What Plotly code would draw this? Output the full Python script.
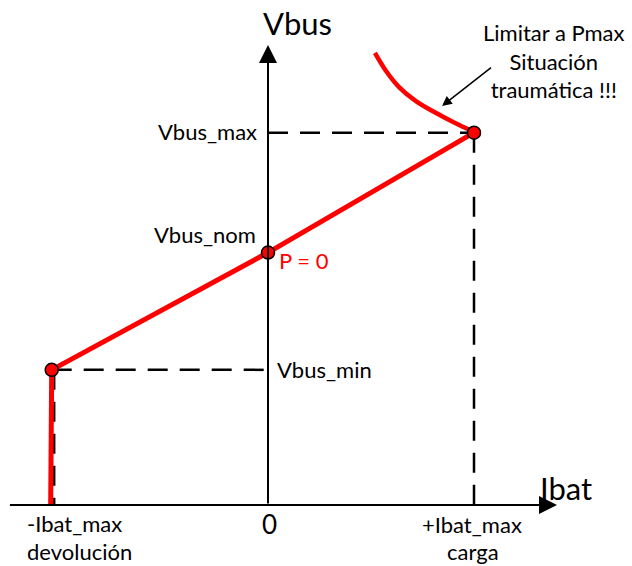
import plotly.graph_objects as go

# ---- data (diagram units) ----
ibat_labels = ["-Ibat_max", "0", "+Ibat_max"]
ibat_sublabels = ["devolución", "", "carga"]
ibat_values = [-1.05, 0.0, 1.0]
vbus_labels = ["Vbus_min", "Vbus_nom", "Vbus_max"]
vbus_values = [0.53, 0.99, 1.46]

# characteristic line (droop)
droop_i = [-1.05, 0.0, 1.0]
droop_v = [0.53, 0.99, 1.46]
# vertical limit at -Ibat_max
limit_i = [-1.055, -1.05]
limit_v = [0.0, 0.53]
# power limit curve
curve_i = [0.519, 0.573, 0.636, 0.718, 0.816, 0.908, 0.990]
curve_v = [1.773, 1.702, 1.639, 1.584, 1.537, 1.498, 1.467]

FONT = "Lato"
fig = go.Figure()

# dashed guide lines
dash = dict(color="black", width=2.5, dash="20px,12px")
fig.add_trace(go.Scatter(x=[ibat_values[0], 0], y=[vbus_values[0]] * 2, mode="lines", line=dash, hoverinfo="skip"))
fig.add_trace(go.Scatter(x=[ibat_values[0] + 0.012] * 2, y=[vbus_values[0], 0], mode="lines", line=dash, hoverinfo="skip"))
fig.add_trace(go.Scatter(x=[0, ibat_values[2]], y=[vbus_values[2]] * 2, mode="lines", line=dash, hoverinfo="skip"))
fig.add_trace(go.Scatter(x=[ibat_values[2]] * 2, y=[vbus_values[2], 0], mode="lines", line=dash, hoverinfo="skip"))

red = dict(color="#ff0000", width=5)
fig.add_trace(go.Scatter(x=limit_i, y=limit_v, mode="lines", line=red, hoverinfo="skip"))
fig.add_trace(go.Scatter(x=droop_i, y=droop_v, mode="lines", line=red, hoverinfo="skip"))
fig.add_trace(go.Scatter(x=curve_i, y=curve_v, mode="lines",
                         line=dict(color="#ff0000", width=4.5, shape="spline", smoothing=1.0), hoverinfo="skip"))
fig.add_trace(go.Scatter(x=droop_i, y=droop_v, mode="markers",
                         marker=dict(color="#ff0000", size=13, line=dict(color="black", width=1.5)), hoverinfo="skip"))

ann = []
# axes with arrows
ann.append(dict(x=1.403, y=0, ax=-1.26, ay=0, xref="x", yref="y", axref="x", ayref="y",
                showarrow=True, arrowhead=2, arrowsize=1.8, arrowwidth=2, arrowcolor="black", text=""))
ann.append(dict(x=0, y=1.804, ax=0, ay=0, xref="x", yref="y", axref="x", ayref="y",
                showarrow=True, arrowhead=2, arrowsize=1.8, arrowwidth=2, arrowcolor="black", text=""))
# axis titles
ann.append(dict(x=0.145, y=1.89, text="Vbus", showarrow=False, font=dict(size=31, family=FONT, color="black")))
ann.append(dict(x=1.447, y=0.065, text="Ibat", showarrow=False, font=dict(size=31, family=FONT, color="black")))
# x tick labels
lab_font = dict(size=22, family=FONT, color="black")
ann.append(dict(x=-0.937, y=-0.071, text=ibat_labels[0], showarrow=False, font=lab_font))
ann.append(dict(x=-0.913, y=-0.182, text=ibat_sublabels[0], showarrow=False, font=lab_font))
ann.append(dict(x=0.005, y=-0.075, text=ibat_labels[1], showarrow=False,
                font=dict(size=26, family=FONT, color="black")))
ann.append(dict(x=0.990, y=-0.078, text=ibat_labels[2], showarrow=False, font=lab_font))
ann.append(dict(x=0.995, y=-0.184, text=ibat_sublabels[2], showarrow=False, font=lab_font))
# y tick labels
ann.append(dict(x=-0.045, y=vbus_values[2] + 0.005, text=vbus_labels[2], showarrow=False, xanchor="right",
                font=lab_font))
ann.append(dict(x=-0.05, y=vbus_values[1] + 0.07, text=vbus_labels[1], showarrow=False, xanchor="right",
                font=lab_font))
ann.append(dict(x=0.035, y=vbus_values[0], text=vbus_labels[0], showarrow=False, xanchor="left",
                font=lab_font))
ann.append(dict(x=0.045, y=vbus_values[1] - 0.03, text="P = 0", showarrow=False, xanchor="left",
                font=dict(size=22, family=FONT, color="#ff0000")))
# callout
ann.append(dict(x=1.39, y=1.74, text="Limitar a Pmax<br>Situación<br>traumática !!!", showarrow=False,
                font=lab_font, align="center"))
ann.append(dict(x=0.845, y=1.565, ax=1.09, ay=1.72, xref="x", yref="y", axref="x", ayref="y",
                showarrow=True, arrowhead=2, arrowsize=1.3, arrowwidth=1.5, arrowcolor="black", text=""))

fig.update_layout(
    width=632, height=566, margin=dict(l=0, r=0, t=0, b=0),
    paper_bgcolor="white", plot_bgcolor="white", showlegend=False,
    xaxis=dict(range=[-268 / 206, 364 / 206], visible=False, fixedrange=True),
    yaxis=dict(range=[-61 / 255, 505 / 255], visible=False, fixedrange=True),
    annotations=ann,
)
fig.write_html("out.html", config={"displayModeBar": False},
               post_script="document.body.style.margin='0';document.body.style.overflow='hidden';")
